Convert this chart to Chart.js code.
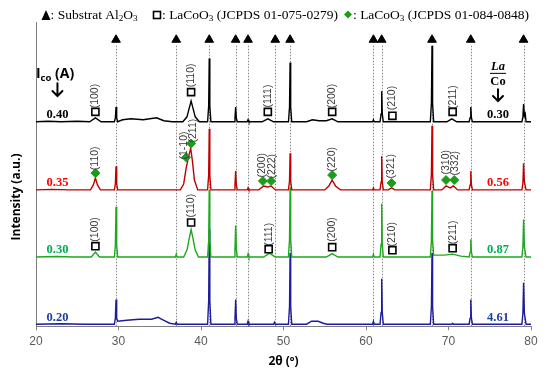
<!DOCTYPE html>
<html><head><meta charset="utf-8">
<script src="https://cdn.jsdelivr.net/npm/chart.js@4"></script>
<style>html,body{margin:0;padding:0;background:#fff;}#wrap{width:550px;height:372px;position:relative}</style>
</head><body><div id="wrap"><canvas id="c" width="550" height="372"></canvas></div>
<script>
// ---------- data ----------
const xTicks = [20, 30, 40, 50, 60, 70, 80];
const al2o3Peaks = [29.7, 37.0, 41.0, 44.2, 45.7, 49.0, 50.8, 60.9, 61.9, 68.0, 72.7, 79.1];
const icoValues = ['0.40', '0.35', '0.30', '0.20'];
const laCoValues = ['0.30', '0.56', '0.87', '4.61'];
const traceOffsets = [207, 138, 70, 2];

const black040 = [[20,0],[21.5,0.5],[23,0],[25,0.5],[26.5,0],[27.2,4],[27.9,0],
 [29.5,0],[29.62,4],[29.7,15],[29.78,4],[29.9,0],
 [30.5,2],[31.5,3],[33,2],[34.6,4],[35.5,1],[36.5,0],
 [37.8,0],[38.3,5],[38.55,13],[38.8,21],[39.05,13],[39.3,5],[39.8,0],
 [40.8,0],[40.93,16],[41.0,64],[41.07,16],[41.2,0],
 [44.0,0],[44.12,4],[44.2,15],[44.28,4],[44.4,0],
 [45.6,0],[45.7,2],[45.8,0],
 [47.4,0],[48.1,3],[48.8,0],
 [50.6,0],[50.73,15],[50.8,60],[50.87,15],[51.0,0],
 [52.8,0],[53.5,2],[54.3,1],[55.2,1],[55.9,3],[56.6,0],
 [60.8,0],[60.9,2],[61.0,0],
 [61.7,0],[61.83,8],[61.9,31],[61.97,8],[62.1,0],
 [67.8,0],[67.93,19],[68.0,77],[68.07,19],[68.2,0],
 [69.8,0],[70.4,3],[71.0,0],
 [72.5,0],[72.62,4],[72.7,15],[72.78,4],[72.9,0],
 [78.9,0],[79.02,5],[79.1,18],[79.2,6],[79.3,8],[79.4,0],[80,0]];

const red035 = [[20,0],[22,0.5],[24,0],[26.6,0],[26.95,5],[27.2,12],[27.45,5],[27.8,0],
 [29.5,0],[29.62,6],[29.7,24],[29.78,6],[29.9,0],
 [37.5,0],[37.9,6],[38.2,22],[38.5,34],[38.75,42],[38.95,30],[39.2,10],[39.6,0],
 [40.8,0],[40.93,15],[41.0,62],[41.07,15],[41.2,0],
 [44.0,0],[44.12,5],[44.2,19],[44.28,5],[44.4,0],
 [45.6,0],[45.7,2],[45.8,0],
 [47.0,0],[47.6,4],[48.1,3],[48.5,4],[49.0,0],
 [50.6,0],[50.73,9],[50.8,37],[50.87,9],[51.0,0],
 [55.0,0],[55.5,4],[55.9,10],[56.3,4],[56.9,0],
 [60.8,0],[60.9,2],[61.0,0],
 [61.7,0],[61.83,8],[61.9,34],[61.97,8],[62.1,0],
 [62.7,0],[63.1,2],[63.5,0],
 [67.8,0],[67.93,16],[68.0,65],[68.07,16],[68.2,0],
 [69.2,0],[69.7,4],[70.2,2],[70.6,4],[71.1,0],
 [72.5,0],[72.62,5],[72.7,19],[72.78,5],[72.9,0],
 [78.9,0],[79.02,7],[79.1,27],[79.2,8],[79.4,0],[80,0]];

const green030 = [[20,0],[22.5,0.5],[24.5,0],[26.7,0],[27.2,5],[27.7,0],
 [29.5,0],[29.62,12],[29.7,51],[29.78,12],[29.9,0],
 [36.9,0],[37.0,3],[37.1,0],
 [37.9,0],[38.3,7],[38.55,18],[38.8,28],[39.05,18],[39.3,7],[39.7,0],
 [40.8,0],[40.93,17],[41.0,68],[41.07,17],[41.2,0],
 [44.0,0],[44.12,8],[44.2,32],[44.28,8],[44.4,0],
 [45.6,0],[45.7,3],[45.8,0],
 [47.6,0],[48.3,4],[49.0,0],
 [50.6,0],[50.73,18],[50.8,70],[50.87,18],[51.0,0],
 [55.2,0],[55.9,3.5],[56.6,0],
 [60.8,0],[60.9,3],[61.0,0],
 [61.7,0],[61.83,13],[61.9,54],[61.97,13],[62.1,0],
 [67.8,0],[67.93,17],[68.0,67],[68.07,17],[68.2,2],
 [69.5,2],[70.5,3],[71.5,1],[72.5,0],
 [72.62,5],[72.7,18],[72.78,5],[72.9,0],
 [78.9,0],[79.02,10],[79.1,38],[79.2,10],[79.4,0],[80,0]];

const blue020 = [[20,0],[23,0.5],[26,0],[29.5,0],[29.62,6],[29.7,25],[29.78,6],[29.9,3],
 [31,4],[32.5,5],[34,5],[34.8,7],[35.5,4],[36.2,1],
 [36.9,0],[37.0,2],[37.1,0],
 [40.8,0],[40.93,24],[41.0,96],[41.07,24],[41.2,0],
 [44.0,0],[44.12,6],[44.2,25],[44.28,6],[44.4,0],
 [45.6,0],[45.7,3],[45.8,0],
 [48.8,0],[48.9,2],[49.0,0],
 [50.6,0],[50.73,18],[50.8,72],[50.87,18],[51.0,0],
 [52.8,0],[53.4,3],[54.2,3],[54.8,1],[55.3,0],
 [60.8,0],[60.9,3],[61.0,0],
 [61.7,0],[61.83,12],[61.9,46],[61.97,12],[62.1,0],
 [67.8,0],[67.93,18],[68.0,72],[68.07,18],[68.2,0],
 [70.4,0],[70.5,1],[70.6,0],
 [72.5,0],[72.62,6],[72.7,25],[72.78,6],[72.9,0],
 [78.9,0],[79.02,11],[79.1,42],[79.2,11],[79.4,0],[80,0]];

// marker positions [2theta, level]
const squareMarks = [[27.2,217],[38.8,237],[48.1,217],[55.9,217],[63.2,213],[70.5,217],
                     [27.2,81],[38.8,105],[48.2,78],[55.9,80],[63.2,77],[70.5,79]];
const diamondMarks = [[27.2,155],[38.2,171],[38.8,185],[47.5,147],[48.5,147],[55.9,153],[63.1,145],[69.7,148],[70.7,148]];

// hkl labels [text, 2theta, level]
const hklBlack = [['(100)',27.2,233],['(110)',38.8,254],['(111)',48.1,233],['(200)',55.9,233],['(210)',63.2,231],['(211)',70.5,232]];
const hklRed = [['(110)',27.2,170],['(1-10)',38.0,183],['(211)',39.0,198],['(200)',47.4,163],['(222)',48.6,162],['(220)',55.9,169],['(321)',63.1,162],['(310)',69.7,166],['(332)',70.8,165]];
const hklGreen = [['(100)',27.2,98],['(110)',38.8,122],['(111)',48.2,93],['(200)',55.9,98],['(210)',63.2,93],['(211)',70.5,95]];

// ---------- chart ----------
const traceColors = ['#000000', '#C00000', '#1EA81E', '#1C1C9C'];
const numColors = ['#000000', '#FF0000', '#00B050', '#1F3F9F'];
const traces = [black040, red035, green030, blue020];

function toXY(arr, off) { return arr.map(p => ({x: p[0], y: p[1] + off})); }

const datasets = [
  {data: al2o3Peaks.map(p => ({x: p, y: 290})), pointStyle: 'triangle', pointRadius: 5,
   backgroundColor: '#000', borderColor: '#000', borderWidth: 1, showLine: false},
  {data: squareMarks.map(p => ({x: p[0], y: p[1]})), pointStyle: 'rect', pointRadius: 5,
   backgroundColor: '#fff', borderColor: '#000', borderWidth: 1.6, showLine: false},
  {data: diamondMarks.map(p => ({x: p[0], y: p[1]})), pointStyle: 'rectRot', pointRadius: 4.5,
   backgroundColor: '#1A9E1A', borderColor: '#1A9E1A', borderWidth: 1, showLine: false}
];
traces.forEach((t, i) => datasets.push({
  data: toXY(t, traceOffsets[i]), showLine: true, pointRadius: 0,
  borderColor: traceColors[i], borderWidth: 1.4, tension: 0
}));

function richText(ctx, x, y, parts, size, family, weight, color) {
  ctx.fillStyle = color; ctx.textBaseline = 'middle'; ctx.textAlign = 'left';
  let cx = x;
  for (const [t, sub] of parts) {
    const s = sub ? size * 0.68 : size;
    ctx.font = weight + ' ' + s + 'px ' + family;
    ctx.fillText(t, cx, sub ? y + size * 0.28 : y);
    cx += ctx.measureText(t).width;
  }
  return cx;
}

function downArrow(ctx, x, yTop, yBot) {
  ctx.save(); ctx.strokeStyle = '#000'; ctx.lineWidth = 2; ctx.lineCap = 'round';
  ctx.beginPath(); ctx.moveTo(x, yTop); ctx.lineTo(x, yBot);
  ctx.moveTo(x - 5, yBot - 5); ctx.lineTo(x, yBot); ctx.lineTo(x + 5, yBot - 5);
  ctx.stroke(); ctx.restore();
}

const decor = {
  id: 'decor',
  beforeDatasetsDraw(chart) {
    const {ctx, chartArea: a, scales: {x, y}} = chart;
    ctx.save();
    ctx.strokeStyle = '#8a8a8a'; ctx.lineWidth = 1; ctx.setLineDash([1.5, 1.5]);
    al2o3Peaks.forEach(p => {
      const px = Math.round(x.getPixelForValue(p)) + 0.5;
      ctx.beginPath(); ctx.moveTo(px, y.getPixelForValue(284)); ctx.lineTo(px, a.bottom); ctx.stroke();
    });
    ctx.setLineDash([]);
    ctx.strokeStyle = '#7f7f7f'; ctx.lineWidth = 1;
    ctx.beginPath(); ctx.moveTo(a.left + 0.5, a.top); ctx.lineTo(a.left + 0.5, a.bottom); ctx.stroke();
    ctx.restore();
  },
  afterDatasetsDraw(chart) {
    const {ctx, scales: {x, y}} = chart;
    ctx.save();
    const groups = [hklBlack, hklRed, hklGreen];
    ctx.fillStyle = '#3a3a3a';
    ctx.font = '10.5px "Liberation Sans", Arial, sans-serif';
    ctx.textAlign = 'center'; ctx.textBaseline = 'middle';
    groups.forEach(g => g.forEach(([t, px, lv]) => {
      ctx.save();
      ctx.translate(x.getPixelForValue(px), y.getPixelForValue(lv));
      ctx.rotate(-Math.PI / 2);
      ctx.fillText(t, 0, 0);
      ctx.restore();
    }));
    ctx.font = 'bold 12.5px "Liberation Serif", "Times New Roman", serif';
    icoValues.forEach((v, i) => {
      ctx.fillStyle = numColors[i];
      ctx.fillText(v, x.getPixelForValue(22.6), y.getPixelForValue(traceOffsets[i] + 7));
    });
    laCoValues.forEach((v, i) => {
      ctx.fillStyle = numColors[i];
      ctx.fillText(v, x.getPixelForValue(76.0), y.getPixelForValue(traceOffsets[i] + 7));
    });
    const ix = x.getPixelForValue(22.3), iy = y.getPixelForValue(255);
    richText(ctx, ix - 19, iy, [['I', false], ['co', true], [' (A)', false]], 14, '"Open Sans", Arial, sans-serif', 'bold', '#000');
    downArrow(ctx, x.getPixelForValue(22.6), y.getPixelForValue(246), y.getPixelForValue(233));
    const lx = x.getPixelForValue(76.0);
    ctx.fillStyle = '#000'; ctx.textAlign = 'center';
    ctx.font = 'italic bold 12.5px "Liberation Serif", serif';
    ctx.fillText('La', lx, y.getPixelForValue(263));
    ctx.fillRect(lx - 8, y.getPixelForValue(256.5), 16, 1);
    ctx.font = 'bold 12.5px "Liberation Serif", serif';
    ctx.fillText('Co', lx, y.getPixelForValue(247));
    downArrow(ctx, lx, y.getPixelForValue(240), y.getPixelForValue(228));
    ctx.save();
    ctx.translate(17, 197); ctx.rotate(-Math.PI / 2);
    ctx.font = 'bold 12px "Open Sans", Arial, sans-serif'; ctx.fillStyle = '#000';
    ctx.textAlign = 'center'; ctx.textBaseline = 'middle';
    ctx.fillText('Intensity (a.u.)', 0, 0);
    ctx.restore();
    const ly = 15, fam = '"Liberation Serif", "Times New Roman", serif';
    ctx.fillStyle = '#000';
    ctx.beginPath(); ctx.moveTo(41.5, 20); ctx.lineTo(50.5, 20); ctx.lineTo(46, 10); ctx.closePath(); ctx.fill();
    richText(ctx, 50.5, ly, [[': Substrat Al', false], ['2', true], ['O', false], ['3', true]], 13.5, fam, 'normal', '#000');
    ctx.strokeStyle = '#000'; ctx.lineWidth = 1.6; ctx.strokeRect(153.5, 11.5, 7, 7);
    richText(ctx, 162, ly, [[': LaCoO', false], ['3', true], [' (JCPDS 01-075-0279)', false]], 13.5, fam, 'normal', '#000');
    ctx.fillStyle = '#1A9E1A';
    ctx.beginPath(); ctx.moveTo(348, 10.5); ctx.lineTo(352, 14.5); ctx.lineTo(348, 18.5); ctx.lineTo(344, 14.5); ctx.closePath(); ctx.fill();
    richText(ctx, 353, ly, [[': LaCoO', false], ['3', true], [' (JCPDS 01-084-0848)', false]], 13.5, fam, 'normal', '#000');
    ctx.restore();
  }
};

new Chart(document.getElementById('c'), {
  type: 'scatter',
  data: {datasets},
  options: {
    responsive: false, animation: false, devicePixelRatio: 1,
    layout: {padding: {left: 36, right: 19, top: 22, bottom: 3}},
    plugins: {legend: {display: false}, tooltip: {enabled: false}},
    scales: {
      x: {type: 'linear', min: 20, max: 80,
          afterBuildTicks: s => { s.ticks = xTicks.map(v => ({value: v})); },
          ticks: {color: '#595959', font: {size: 12, family: '"Liberation Sans", Arial, sans-serif'}, padding: 4},
          grid: {display: true, drawOnChartArea: false, drawTicks: true, tickLength: 4, color: '#7f7f7f'},
          border: {color: '#7f7f7f', width: 1},
          title: {display: true, text: '2θ (º)', color: '#000', font: {size: 12, weight: 'bold', family: '"Open Sans", Arial, sans-serif'}, padding: {top: 2, bottom: 0}}},
      y: {display: false, min: 0, max: 308}
    }
  },
  plugins: [decor]
});
</script></body></html>
